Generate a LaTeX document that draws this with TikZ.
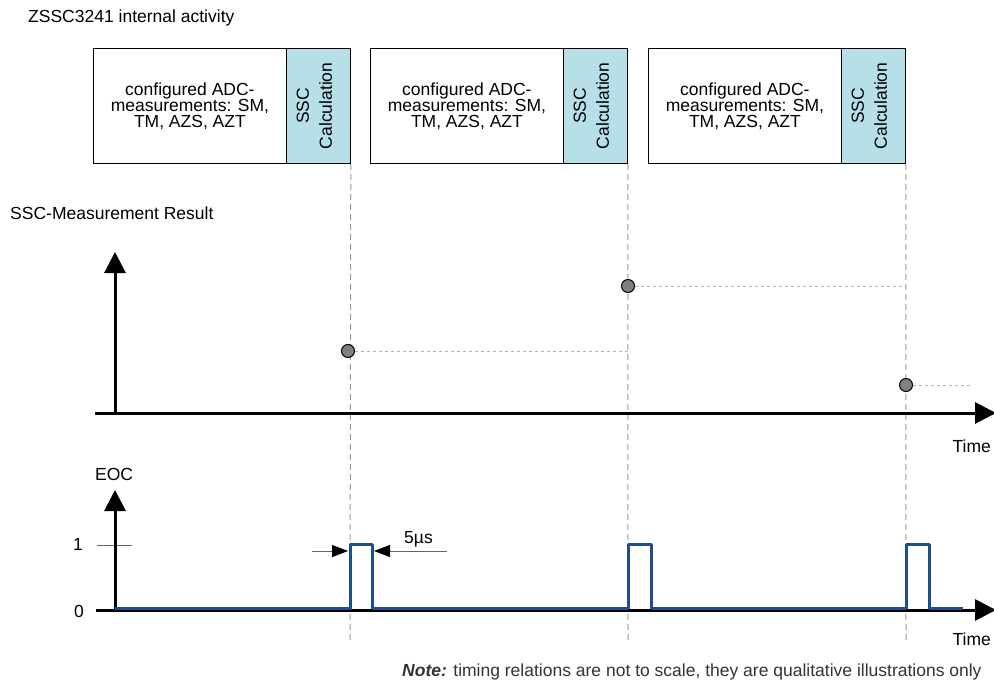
\documentclass[tikz,border=0pt]{standalone}
\usepackage{fontspec}
\setmainfont{Liberation Sans}
\usetikzlibrary{arrows.meta}
\definecolor{calcblue}{HTML}{B7DFE8}
\definecolor{sigblue}{HTML}{1F4E8C}
\definecolor{dotgray}{HTML}{808080}
\begin{document}
\begin{tikzpicture}[x=1pt,y=-1pt,
  every node/.style={inner sep=0pt, font=\fontsize{17.5}{16}\selectfont},
  adcbox/.style={draw=black, line width=0.8pt, fill=white, minimum width=193pt, minimum height=115pt, anchor=north west, align=center},
  calcbox/.style={draw=black, line width=0.8pt, fill=calcblue, minimum width=64pt, minimum height=115pt, anchor=north west},
  calctext/.style={rotate=90, align=center, font=\fontsize{17.5}{23}\selectfont},
  axis/.style={line width=3pt, -{Triangle[length=21pt,width=21pt]}},
  guide/.style={draw=gray!80, line width=1pt, dash pattern=on 6pt off 4pt},
  level/.style={draw=gray!60, line width=1pt, dash pattern=on 3pt off 3pt},
  result/.style={circle, draw=black, line width=1pt, fill=dotgray, minimum size=13pt},
  signal/.style={draw=sigblue, line width=3pt, line join=round},
  dimarrow/.style={draw=gray!80!black, line width=1pt, -{Triangle[length=16pt,width=12pt,color=black]}},
  lbl/.style={font=\fontsize{17.5}{20}\selectfont}
]
\useasboundingbox (0,0) rectangle (994,682);

\node[lbl, anchor=base west] (title) at (28,23) {ZSSC3241 internal activity};

% boxes
\foreach \i/\x in {1/93, 2/370, 3/648} {
  \node[adcbox] (adc\i) at (\x,48) {configured ADC-\\measurements: SM,\\TM, AZS, AZT};
  \node[calcbox] (calc\i) at (\x+193,48) {};
  \node[calctext] at ([xshift=-4pt]calc\i.center) {SSC\\Calculation};
}

% guide lines
\coordinate (g1) at (350,640);
\coordinate (g2) at (628,640);
\coordinate (g3) at (906,640);
\draw[guide] (calc1.south east) -- (g1);
\draw[guide] (calc2.south east) -- (g2);
\draw[guide] (calc3.south east) -- (g3);

% upper plot
\node[lbl, anchor=base west] (sscres) at (10,219) {SSC-Measurement Result};
\coordinate (o1) at (115,413);
\coordinate (y1) at (115,252);
\coordinate (xs1) at (95,413);
\coordinate (x1) at (996,413);
\draw[axis] (o1) -- (y1);
\draw[axis] (xs1) -- (x1);
\node[lbl, anchor=base east] (time1) at (991,452) {Time};

\coordinate (l1e) at (628,351);
\coordinate (l2e) at (906,286);
\coordinate (l3e) at (972,385);
\node[result] (r1) at (348,351) {};
\node[result] (r2) at (628,286) {};
\node[result] (r3) at (906,385) {};
\draw[level] (r1.east) -- (l1e);
\draw[level] (r2.east) -- (l2e);
\draw[level] (r3.east) -- (l3e);

% lower plot
\node[lbl, anchor=base west] (eoc) at (95,480) {EOC};
\coordinate (o2) at (115,610);
\coordinate (y2) at (115,490);
\coordinate (xs2) at (96,610);
\coordinate (x2) at (996,610);
\coordinate (t1a) at (97,545);
\coordinate (t1b) at (132,545);
\draw[gray!80!black, line width=1pt] (t1a) -- (t1b);
\node[lbl, anchor=base west] (one) at (73,550) {1};
\node[lbl, anchor=base west] (zero) at (74,617) {0};
\draw[axis] (o2) -- (y2);
\draw[axis] (xs2) -- (x2);
\node[lbl, anchor=base east] (time2) at (991,645) {Time};

\draw[signal] (115,608) -- (350,608) -- (350,544) -- (372,544) -- (372,608)
  -- (628,608) -- (628,544) -- (651,544) -- (651,608)
  -- (906,608) -- (906,544) -- (929,544) -- (929,608) -- (963,608);

% 5us annotation
\coordinate (d1s) at (312,551);
\coordinate (d1e) at (348,551);
\coordinate (d2s) at (447,551);
\coordinate (d2e) at (374,551);
\draw[dimarrow] (d1s) -- (d1e);
\draw[dimarrow] (d2s) -- (d2e);
\node[lbl, anchor=base west] (us) at (404,543) {5µs};

% note
\node[lbl, anchor=base west, text=black!80] (note) at (402,676)
  {\textbf{\textit{Note:}} timing relations are not to scale, they are qualitative illustrations only};
\end{tikzpicture}
\end{document}
